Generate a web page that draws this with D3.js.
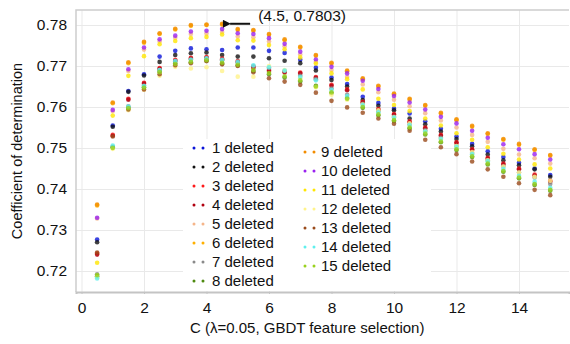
<!DOCTYPE html>
<html>
<head>
<meta charset="utf-8">
<script src="https://cdn.jsdelivr.net/npm/d3@7"></script>
<style>
body { margin: 0; background: #fff; }
text { font-family: "Liberation Sans", Arial, sans-serif; }
</style>
</head>
<body>
<div id="chart"></div>
<script>
// C values (x axis)
var cValues = [0.5,1,1.5,2,2.5,3,3.5,4,4.5,5,5.5,6,6.5,7,7.5,8,8.5,9,9.5,10,10.5,11,11.5,12,12.5,13,13.5,14,14.5,15];

var seriesNames = ["1 deleted","2 deleted","3 deleted","4 deleted","5 deleted","6 deleted","7 deleted","8 deleted",
  "9 deleted","10 deleted","11 deleted","12 deleted","13 deleted","14 deleted","15 deleted"];
var seriesColors = ["#0a14d8","#111111","#ff1a1a","#b00010","#f5b58a","#ffb000","#8a8a8a","#4e8a10",
  "#f28c00","#9a22f0","#ffe600","#fff38a","#9a4a1a","#5ff0ee","#9ad21e"];

// coefficient of determination per series
var del1  = [0.7277,0.7555,0.7639,0.7680,0.7723,0.7737,0.7743,0.7741,0.7739,0.7745,0.7745,0.7737,0.7732,0.7715,0.7696,0.7672,0.7656,0.7625,0.7610,0.7596,0.7584,0.7565,0.7547,0.7528,0.7510,0.7492,0.7478,0.7464,0.7450,0.7434];
var del2  = [0.7270,0.7552,0.7637,0.7677,0.7710,0.7727,0.7731,0.7733,0.7727,0.7723,0.7723,0.7719,0.7713,0.7707,0.7689,0.7666,0.7650,0.7617,0.7603,0.7592,0.7572,0.7558,0.7540,0.7522,0.7504,0.7484,0.7470,0.7458,0.7448,0.7430];
var del3  = [0.7243,0.7532,0.7620,0.7659,0.7695,0.7715,0.7720,0.7722,0.7718,0.7712,0.7698,0.7690,0.7686,0.7684,0.7673,0.7654,0.7643,0.7613,0.7595,0.7583,0.7565,0.7550,0.7532,0.7514,0.7497,0.7476,0.7462,0.7450,0.7435,0.7420];
var del4  = [0.7240,0.7530,0.7618,0.7657,0.7693,0.7713,0.7718,0.7720,0.7716,0.7710,0.7696,0.7688,0.7684,0.7682,0.7671,0.7652,0.7641,0.7611,0.7593,0.7581,0.7563,0.7548,0.7530,0.7512,0.7495,0.7474,0.7460,0.7448,0.7433,0.7418];
var del5  = [0.7328,0.7590,0.7688,0.7740,0.7760,0.7769,0.7778,0.7779,0.7783,0.7772,0.7770,0.7760,0.7748,0.7728,0.7710,0.7690,0.7673,0.7655,0.7636,0.7618,0.7602,0.7585,0.7567,0.7550,0.7532,0.7515,0.7498,0.7484,0.7475,0.7462];
var del6  = [0.7360,0.7609,0.7707,0.7757,0.7778,0.7789,0.7798,0.7800,0.7801,0.7788,0.7786,0.7776,0.7763,0.7745,0.7725,0.7706,0.7687,0.7668,0.7650,0.7631,0.7618,0.7603,0.7584,0.7568,0.7552,0.7534,0.7520,0.7508,0.7495,0.7481];
var del7  = [0.7192,0.7503,0.7602,0.7652,0.7690,0.7711,0.7716,0.7718,0.7714,0.7708,0.7700,0.7695,0.7688,0.7676,0.7668,0.7645,0.7630,0.7608,0.7590,0.7576,0.7558,0.7543,0.7525,0.7505,0.7488,0.7470,0.7455,0.7440,0.7428,0.7412];
var del8  = [0.7187,0.7502,0.7598,0.7648,0.7686,0.7706,0.7709,0.7713,0.7706,0.7702,0.7688,0.7680,0.7672,0.7662,0.7652,0.7634,0.7622,0.7598,0.7580,0.7566,0.7548,0.7533,0.7514,0.7495,0.7478,0.7460,0.7442,0.7426,0.7410,0.7396];
var del9  = [0.7362,0.7611,0.7709,0.7759,0.7780,0.7791,0.7800,0.7801,0.7803,0.7790,0.7788,0.7778,0.7765,0.7747,0.7727,0.7708,0.7689,0.7670,0.7652,0.7633,0.7620,0.7605,0.7586,0.7570,0.7554,0.7536,0.7522,0.7510,0.7497,0.7483];
var del10 = [0.7330,0.7593,0.7692,0.7745,0.7765,0.7774,0.7784,0.7786,0.7790,0.7780,0.7778,0.7768,0.7754,0.7735,0.7716,0.7698,0.7682,0.7664,0.7644,0.7627,0.7611,0.7594,0.7576,0.7560,0.7542,0.7525,0.7509,0.7497,0.7485,0.7472];
var del11 = [0.7220,0.7579,0.7676,0.7724,0.7753,0.7761,0.7768,0.7771,0.7777,0.7763,0.7762,0.7751,0.7741,0.7721,0.7706,0.7682,0.7668,0.7643,0.7620,0.7605,0.7590,0.7572,0.7555,0.7536,0.7520,0.7502,0.7486,0.7472,0.7460,0.7450];
var del12 = [0.7185,0.7498,0.7592,0.7642,0.7676,0.7698,0.7694,0.7697,0.7688,0.7674,0.7674,0.7700,0.7690,0.7670,0.7648,0.7630,0.7618,0.7606,0.7592,0.7575,0.7560,0.7540,0.7522,0.7505,0.7490,0.7470,0.7455,0.7440,0.7430,0.7420];
var del13 = [0.7245,0.7528,0.7594,0.7643,0.7680,0.7702,0.7707,0.7712,0.7704,0.7700,0.7685,0.7670,0.7662,0.7654,0.7635,0.7615,0.7599,0.7586,0.7572,0.7559,0.7542,0.7520,0.7502,0.7485,0.7467,0.7448,0.7430,0.7414,0.7398,0.7385];
var del14 = [0.7182,0.7506,0.7601,0.7651,0.7690,0.7712,0.7715,0.7719,0.7715,0.7710,0.7702,0.7697,0.7689,0.7673,0.7665,0.7642,0.7627,0.7605,0.7587,0.7574,0.7556,0.7540,0.7522,0.7503,0.7485,0.7468,0.7449,0.7432,0.7418,0.7403];
var del15 = [0.7190,0.7500,0.7597,0.7647,0.7685,0.7705,0.7710,0.7714,0.7708,0.7703,0.7690,0.7683,0.7675,0.7665,0.7650,0.7636,0.7620,0.7600,0.7582,0.7568,0.7550,0.7535,0.7516,0.7497,0.7480,0.7462,0.7444,0.7428,0.7412,0.7398];

var allSeries = [del1,del2,del3,del4,del5,del6,del7,del8,del9,del10,del11,del12,del13,del14,del15];

var xTicks = [0,2,4,6,8,10,12,14];
var yTicks = [0.72,0.73,0.74,0.75,0.76,0.77,0.78];
var peak = {c: 4.5, r2: 0.7803, label: "(4.5, 0.7803)"};

var width = 570, height = 344;
var plot = {left: 76, right: 569, top: 10, bottom: 292};

var svg = d3.select("#chart")
  .append("svg")
  .attr("width", width)
  .attr("height", height);

var x = d3.scaleLinear()
  .domain([-0.176, 15.6])
  .range([plot.left, plot.right]);

var y = d3.scaleLinear()
  .domain([0.71488, 0.78366])
  .range([plot.bottom, plot.top]);

// grid lines
svg.append("g")
  .attr("transform", "translate(0," + plot.bottom + ")")
  .call(d3.axisBottom(x).tickValues(xTicks).tickSize(-(plot.bottom - plot.top)).tickFormat(""))
  .call(function(g) { g.select(".domain").remove(); })
  .selectAll("line").attr("stroke", "#e9e9e9");

svg.append("g")
  .attr("transform", "translate(" + plot.left + ",0)")
  .call(d3.axisLeft(y).tickValues(yTicks).tickSize(-(plot.right - plot.left)).tickFormat(""))
  .call(function(g) { g.select(".domain").remove(); })
  .selectAll("line").attr("stroke", "#e9e9e9");

// frame
svg.append("path")
  .attr("d", "M" + plot.left + "," + plot.bottom + "V" + plot.top + "H" + plot.right)
  .attr("fill", "none")
  .attr("stroke", "#cdcdcd")
  .attr("stroke-width", 1.5);

// x axis
var xAxis = svg.append("g")
  .attr("transform", "translate(0," + plot.bottom + ")")
  .call(d3.axisBottom(x).tickValues(xTicks).tickSize(2).tickPadding(8).tickFormat(d3.format("d")));
xAxis.select(".domain").attr("stroke", "#c4c4c4").attr("stroke-width", 2);
xAxis.selectAll("line").attr("stroke", "#c4c4c4");
xAxis.selectAll("text").attr("font-size", 15.5).attr("fill", "#111")
  .style("font-family", "'Liberation Sans', Arial, sans-serif");

// y axis
var yAxis = svg.append("g")
  .attr("transform", "translate(" + plot.left + ",0)")
  .call(d3.axisLeft(y).tickValues(yTicks).tickSize(0).tickPadding(9).tickFormat(d3.format(".2f")));
yAxis.select(".domain").remove();
yAxis.selectAll("text").attr("font-size", 15.5).attr("fill", "#111")
  .style("font-family", "'Liberation Sans', Arial, sans-serif");

// legend box
svg.append("rect")
  .attr("x", 183).attr("y", 139)
  .attr("width", 248).attr("height", 152)
  .attr("fill", "#fff");

// points
allSeries.forEach(function(vals, i) {
  svg.append("g")
    .selectAll("circle")
    .data(vals)
    .enter()
    .append("circle")
    .attr("cx", function(d, j) { return x(cValues[j]); })
    .attr("cy", function(d) { return y(d); })
    .attr("r", 2.3)
    .attr("fill", seriesColors[i])
    .attr("opacity", 0.8);
});

// legend entries
var legend = svg.append("g");
seriesNames.forEach(function(name, i) {
  var col = i < 8 ? 0 : 1;
  var row = i < 8 ? i : i - 8;
  var lx = col === 0 ? 194 : 305;
  var ly = (col === 0 ? 148 : 152) + row * 19;
  legend.append("circle").attr("cx", lx).attr("cy", ly).attr("r", 1.5).attr("fill", seriesColors[i]);
  legend.append("circle").attr("cx", lx + 9).attr("cy", ly).attr("r", 1.5).attr("fill", seriesColors[i]);
  legend.append("text")
    .attr("x", lx + (col === 0 ? 18 : 16))
    .attr("y", ly)
    .attr("dy", "0.35em")
    .attr("font-size", 15)
    .attr("fill", "#111")
    .text(name);
});

// peak annotation
svg.append("defs").append("marker")
  .attr("id", "arrow")
  .attr("viewBox", "0 0 10 10")
  .attr("refX", 1).attr("refY", 5)
  .attr("markerWidth", 4.5).attr("markerHeight", 4)
  .attr("orient", "auto-start-reverse")
  .append("path")
  .attr("d", "M10,0 L0,5 L10,10 z")
  .attr("fill", "#111");

svg.append("line")
  .attr("x1", x(peak.c) + 28).attr("y1", y(peak.r2))
  .attr("x2", x(peak.c) + 8).attr("y2", y(peak.r2))
  .attr("stroke", "#111")
  .attr("stroke-width", 2)
  .attr("marker-end", "url(#arrow)");

svg.append("text")
  .attr("x", x(peak.c) + 36)
  .attr("y", y(peak.r2) - 3)
  .attr("font-size", 15.5)
  .attr("fill", "#111")
  .text(peak.label);

// axis titles
svg.append("text")
  .attr("transform", "translate(17," + ((plot.top + plot.bottom) / 2) + ") rotate(-90)")
  .attr("text-anchor", "middle")
  .attr("dy", "0.35em")
  .attr("font-size", 14.5)
  .attr("fill", "#111")
  .text("Coefficient of determination");

svg.append("text")
  .attr("x", 190)
  .attr("y", 333)
  .attr("font-size", 15)
  .attr("fill", "#111")
  .text("C (λ=0.05, GBDT feature selection)");
</script>
</body>
</html>
